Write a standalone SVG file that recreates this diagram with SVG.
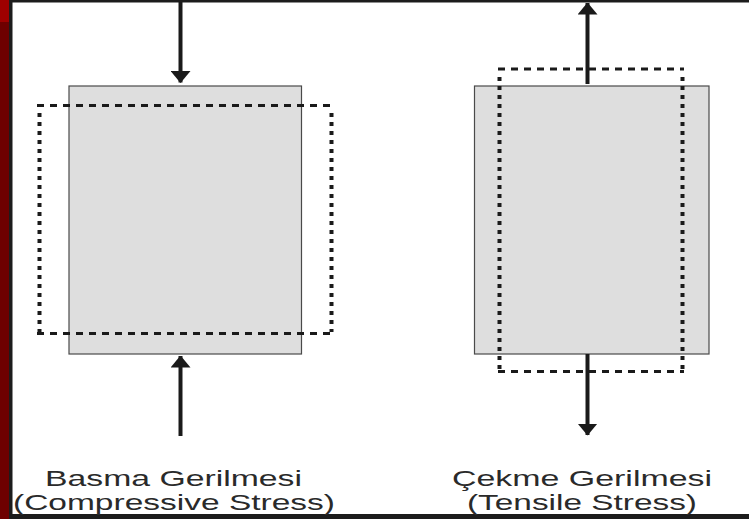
<svg xmlns="http://www.w3.org/2000/svg" width="749" height="519" viewBox="0 0 749 519">
  <style>
    .frame-dark { fill: #1c1c1c; }
    .bar { fill: #dedede; stroke: #4a4a4a; stroke-width: 1.2; }
    .outline-h { stroke: #1a1a1a; stroke-width: 3; stroke-dasharray: 7 6; fill: none; }
    .outline-v { stroke: #1a1a1a; stroke-width: 4; stroke-dasharray: 4 5; fill: none; }
    .force { stroke: #1a1a1a; stroke-width: 4; fill: none; }
    .label { font-family: "Liberation Sans", Arial, sans-serif; font-size: 22.5px; fill: #2a2a2a; }
  </style>
  <defs>
    <marker id="head" viewBox="0 0 12 20" refX="11.5" refY="10" markerWidth="12" markerHeight="20" markerUnits="userSpaceOnUse" orient="auto">
      <path d="M0,0 L12,10 L0,20 Z" fill="#1a1a1a"/>
    </marker>
  </defs>

  <!-- page background and frame -->
  <rect x="0" y="0" width="749" height="519" fill="#ffffff"/>
  <rect x="0" y="0" width="9" height="519" fill="#6e0000"/>
  <rect x="0" y="0" width="9" height="22" fill="#9e0000"/>
  <rect class="frame-dark" x="9" y="0" width="3.5" height="519"/>
  <rect class="frame-dark" x="9" y="0" width="740" height="2.5"/>
  <rect class="frame-dark" x="9" y="514" width="740" height="5"/>

  <!-- compressive specimen -->
  <g id="compressive">
    <rect class="bar" x="69" y="86" width="232.5" height="268"/>
    <line class="outline-h" x1="37" y1="105.5" x2="332" y2="105.5"/>
    <line class="outline-h" x1="37" y1="333.5" x2="332" y2="333.5"/>
    <line class="outline-v" x1="39.5" y1="113" x2="39.5" y2="332"/>
    <line class="outline-v" x1="331.5" y1="113" x2="331.5" y2="332"/>
  </g>

  <!-- tensile specimen -->
  <g id="tensile">
    <rect class="bar" x="474.5" y="86" width="234.5" height="268"/>
    <line class="outline-h" x1="498" y1="69" x2="684" y2="69"/>
    <line class="outline-h" x1="498" y1="371.5" x2="684" y2="371.5"/>
    <line class="outline-v" x1="499.5" y1="77" x2="499.5" y2="370"/>
    <line class="outline-v" x1="682.5" y1="77" x2="682.5" y2="370"/>
  </g>

  <!-- applied forces -->
  <g id="forces">
    <line class="force" x1="180.5" y1="2" x2="180.5" y2="82.5" marker-end="url(#head)"/>
    <line class="force" x1="180.5" y1="436" x2="180.5" y2="356" marker-end="url(#head)"/>
    <line class="force" x1="587.5" y1="84" x2="587.5" y2="3" marker-end="url(#head)"/>
    <line class="force" x1="587.5" y1="354" x2="587.5" y2="435" marker-end="url(#head)"/>
  </g>

  <g id="label-compressive">
    <text class="label" x="45" y="486" textLength="257" lengthAdjust="spacingAndGlyphs">Basma Gerilmesi</text>
    <text class="label" x="13" y="510" textLength="322" lengthAdjust="spacingAndGlyphs">(Compressive Stress)</text>
  </g>
  <g id="label-tensile">
    <text class="label" x="452" y="486" textLength="260" lengthAdjust="spacingAndGlyphs">Çekme Gerilmesi</text>
    <text class="label" x="467" y="510" textLength="230" lengthAdjust="spacingAndGlyphs">(Tensile Stress)</text>
  </g>
</svg>
